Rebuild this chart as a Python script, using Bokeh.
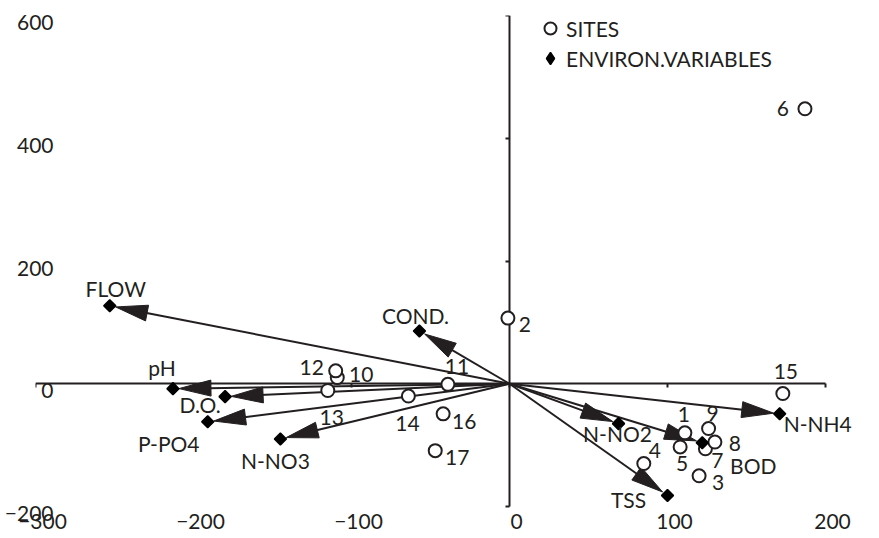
import math
from bokeh.plotting import figure
from bokeh.models import (Range1d, LinearAxis, FixedTicker, CustomJSTickFormatter,
                          Legend, LegendItem)
from bokeh.core.properties import value
from bokeh.embed import file_html
from bokeh.resources import INLINE

# ---------------- data ----------------
site_ids = ["1", "2", "3", "4", "5", "6", "7", "8", "9", "10",
            "11", "12", "13", "14", "15", "16", "17"]
site_x = [111, -1, 120, 85, 108, 187, 124, 130, 126, -109,
          -39, -110, -115, -64, 173, -42, -47]
site_y = [-80, 107, -150, -130, -103, 448, -106, -95, -73, 10,
          -1, 21, -11, -20, -16, -49, -109]

env_names = ["FLOW", "pH", "D.O.", "P-PO4", "N-NO3", "COND.",
             "N-NO2", "BOD", "N-NH4", "TSS"]
env_x = [-253, -213, -180, -191, -145, -57, 69, 122, 171, 100]
env_y = [127, -8, -21, -62, -90, 86, -65, -96, -49, -182]

x_ticks = [-300, -200, -100, 0, 100, 200]
y_ticks = [-200, 0, 200, 400, 600]
legend_labels = ["SITES", "ENVIRON.VARIABLES"]

# ---------------- label placement (screen px) ----------------
site_dx = [-1, 17, 19, 11, 2, -22, 12, 20, 4, 24, 9, -24, 4, -1, 3, 21, 22]
site_dy = [-18, 6, 7, -13, 17, 0, 12, 1, -15, -3, -18, -3, 27, 27, -22, 8, 7]
env_dx = [6, -11, -25, -39, -5, -4, -1, 51, 38, -39]
env_dy = [-17, -21, 8, 22, 22, -15, 10, 23, 10, 4]
XLABEL_SHIFT_PX = 7      # tick labels sit a little right of their ticks
YLABEL_SHIFT_PX = 7      # ... and a little below

# ---------------- layout ----------------
W, H = 879, 538
BL, BT = 35, 15
AXIS_R, AXIS_B = 825, 506                    # pixel ends of the drawn axes
FRAME_R, FRAME_B = 871, 517                  # frame leaves room for labels
BR, BB = W - FRAME_R, H - FRAME_B
FW, FH = FRAME_R - BL, FRAME_B - BT
XAX, YAX = (-300, 200), (-200, 600)          # axis extents
PX_PER_X = (AXIS_R - BL) / (XAX[1] - XAX[0])
PX_PER_Y = (AXIS_B - BT) / (YAX[1] - YAX[0])
X_VIEW_MAX = XAX[0] + FW / PX_PER_X
Y_VIEW_MIN = YAX[1] - FH / PX_PER_Y
INK = "#231f20"
FONT = "Lato"
FS = "21px"

p = figure(width=W, height=H, x_range=Range1d(XAX[0], X_VIEW_MAX),
           y_range=Range1d(Y_VIEW_MIN, YAX[1]),
           output_backend="svg", toolbar_location=None,
           min_border_left=BL, min_border_right=BR,
           min_border_top=BT, min_border_bottom=BB,
           x_axis_location=None, y_axis_location=None)
p.outline_line_color = None
p.xgrid.visible = False
p.ygrid.visible = False
p.background_fill_color = "white"

# label ranges: same scale, nudged by a few pixels
dxu = XLABEL_SHIFT_PX / PX_PER_X
dyu = YLABEL_SHIFT_PX / PX_PER_Y
p.extra_x_ranges = {"lab": Range1d(XAX[0] - dxu, X_VIEW_MAX - dxu)}
p.extra_y_ranges = {"lab": Range1d(Y_VIEW_MIN + dyu, YAX[1] + dyu)}

label_style = dict(axis_line_color=None, major_tick_line_color=None,
                   minor_tick_line_color=None, major_tick_out=0, major_tick_in=0,
                   minor_tick_out=0, minor_tick_in=0,
                   major_label_text_font=FONT, major_label_text_font_size=FS,
                   major_label_text_color=INK)
bx_axis = LinearAxis(x_range_name="lab", ticker=FixedTicker(ticks=x_ticks),
                     major_label_standoff=-4, **label_style)
ly_axis = LinearAxis(y_range_name="lab", ticker=FixedTicker(ticks=y_ticks),
                     major_label_standoff=-18, **label_style)
p.add_layout(bx_axis, "below")
p.add_layout(ly_axis, "left")

# axes through the origin
blank = CustomJSTickFormatter(code="return ''")
common = dict(fixed_location=0, formatter=blank,
              major_tick_out=4, major_tick_in=0, minor_tick_out=0, minor_tick_in=0,
              axis_line_width=2, axis_line_color=INK,
              major_tick_line_width=2, major_tick_line_color=INK, level="underlay")
cx = LinearAxis(ticker=FixedTicker(ticks=x_ticks), bounds=XAX, **common)
cy = LinearAxis(ticker=FixedTicker(ticks=y_ticks), bounds=YAX, **common)
p.add_layout(cx, "below")
p.add_layout(cy, "left")

# arrows (shaft + long triangular head), geometry derived from data
GAP, HEAD_L, HEAD_HW = 6, 32, 8
sx, sy = PX_PER_X, PX_PER_Y
shaft_x, shaft_y, head_xs, head_ys = [], [], [], []
for x, y in zip(env_x, env_y):
    px, py = x * sx, y * sy
    L = math.hypot(px, py)
    ux, uy = px / L, py / L
    tip = L - GAP
    base = tip - HEAD_L
    nx, ny = -uy, ux
    bx, by = ux * base, uy * base
    head_xs.append([ux * tip / sx, (bx + nx * HEAD_HW) / sx, (bx - nx * HEAD_HW) / sx])
    head_ys.append([uy * tip / sy, (by + ny * HEAD_HW) / sy, (by - ny * HEAD_HW) / sy])
    shaft_x.append(ux * (base + 3) / sx)
    shaft_y.append(uy * (base + 3) / sy)

p.segment(x0=0, y0=0, x1=shaft_x, y1=shaft_y, line_color=INK, line_width=2)
p.patches(head_xs, head_ys, fill_color=INK, line_color=INK, line_width=1)

r_sites = p.scatter(site_x, site_y, marker="circle", size=13, fill_color="white",
                    line_color=INK, line_width=2)
r_env = p.scatter(env_x, env_y, marker="square", angle=math.pi / 4, size=8.5,
                  fill_color="black", line_color="black", line_width=1.5)
# legend swatch for the variables (a point with no position: shown only in the legend)
r_env_key = p.scatter([float("nan")], [float("nan")], marker="diamond", size=12,
                      fill_color="black", line_color="black", line_width=1.5)

p.text(x=site_x, y=site_y, text=site_ids, x_offset=site_dx, y_offset=site_dy,
       text_align="center", text_baseline="middle", text_font=value(FONT),
       text_font_size=FS, text_color=INK)
p.text(x=env_x, y=env_y, text=env_names, x_offset=env_dx, y_offset=env_dy,
       text_align="center", text_baseline="middle", text_font=value(FONT),
       text_font_size=FS, text_color=INK)

legend = Legend(items=[LegendItem(label=legend_labels[0], renderers=[r_sites]),
                       LegendItem(label=legend_labels[1], renderers=[r_env_key])],
                location=(499, 433 + (FRAME_B - AXIS_B)), glyph_width=32, glyph_height=30,
                label_height=30, spacing=0, padding=0, margin=0, label_standoff=0,
                border_line_color=None, background_fill_alpha=0,
                label_text_font=FONT, label_text_font_size=FS, label_text_color=INK)
p.add_layout(legend)

open("out.html", "w").write(file_html(p, INLINE))
